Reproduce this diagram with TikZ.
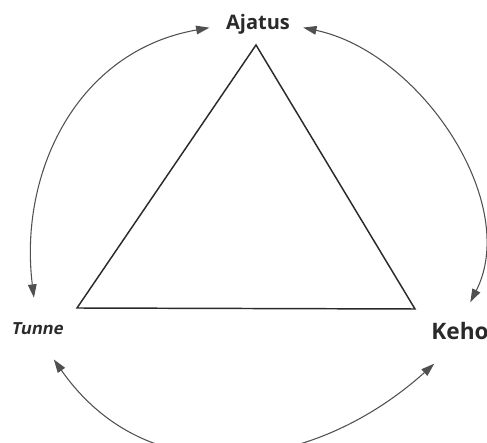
\documentclass[tikz,border=0pt]{standalone}
\usepackage{fontspec}
\usepackage{xcolor}
\usetikzlibrary{arrows.meta}
\newfontfamily\osfont{Open Sans}
\newfontfamily\osslant[FakeSlant=0.2]{Open Sans}
\definecolor{inkgrey}{HTML}{2a2a2a}
\definecolor{arcgrey}{HTML}{505050}

\begin{document}
\begin{tikzpicture}[x=0.75pt, y=0.75pt,
    cycarrow/.style={<->, arcgrey, line width=0.8pt},
    cornertext/.style={inkgrey, inner sep=0pt, anchor=base}]
  \useasboundingbox (0,0) rectangle (487,443);
  % ---------------- the three corners ----------------
  \node[cornertext] (ajatus) at (258,413) {\osfont\fontsize{15}{17}\selectfont\bfseries Ajatus};
  \node[cornertext] (tunne) at (37,108) {\osslant\fontsize{12.5}{15}\selectfont\bfseries Tunne};
  \node[cornertext] (keho) at (460,103) {\osfont\fontsize{17}{20}\selectfont\bfseries Keho};

  % ---------------- triangle ----------------
  \coordinate (apex) at (256,398);
  \coordinate (leftfoot) at (77,135);
  \coordinate (rightfoot) at (415,134);
  \draw[inkgrey, line width=1.1pt, line join=miter] (apex) -- (leftfoot) -- (rightfoot) -- cycle;

  % ---------------- arrows round the circle ----------------
  \begin{scope}[>={Triangle[length=10pt, width=6.5pt]}]
    \draw[cycarrow, shorten <=12.5pt, shorten >=19pt]
      (ajatus.west) to[out=190, in=97, looseness=1.1] (tunne.north);
    \draw[cycarrow, shorten <=10pt, shorten >=17pt]
      (ajatus.east) to[out=-12, in=63] (keho.north);
    \draw[cycarrow, shorten <=22pt, shorten >=26pt]
      (tunne.south) to[out=-55, in=-138, looseness=1.18] (keho.south);
  \end{scope}
\end{tikzpicture}
\end{document}
